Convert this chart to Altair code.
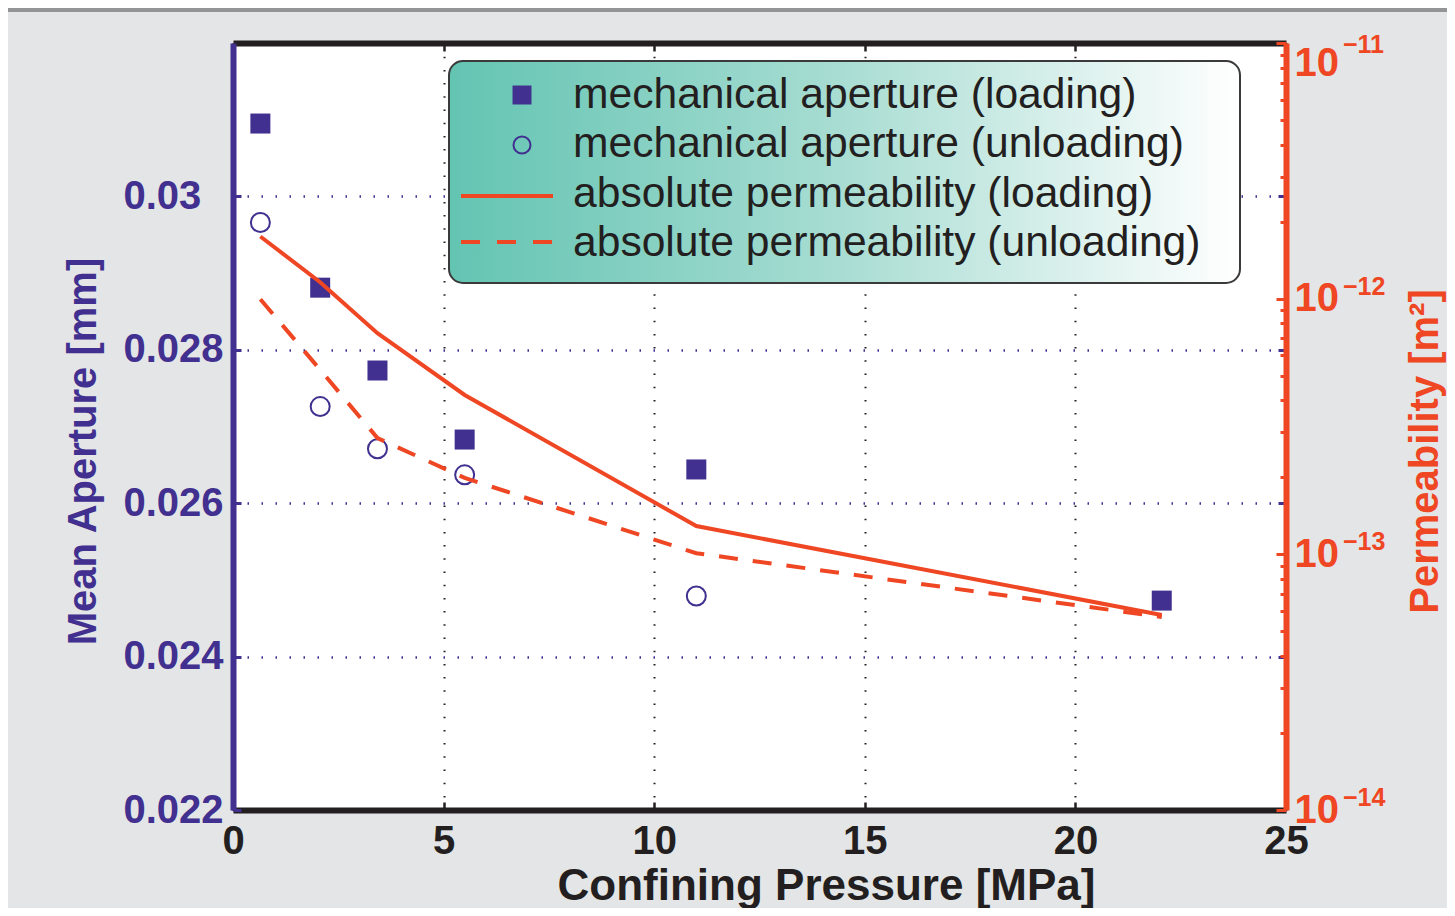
import altair as alt
import pandas as pd

# ---- data ----
pressure = [0.65, 2.07, 3.43, 5.5, 11.0, 22.05]
aperture_loading = [0.03095, 0.02881, 0.02773, 0.02683, 0.02644, 0.02473]
pressure_unloading = [0.65, 2.07, 3.43, 5.5, 11.0]
aperture_unloading = [0.02966, 0.02726, 0.02671, 0.02637, 0.02479]
perm_loading = [1.75e-12, 1.16e-12, 7.33e-13, 4.2e-13, 1.29e-13, 5.79e-14]
perm_unloading = [9.95e-13, 5.27e-13, 2.85e-13, 1.99e-13, 1.01e-13, 5.69e-14]

x_ticks = [0, 5, 10, 15, 20, 25]
aperture_ticks = [0.022, 0.024, 0.026, 0.028, 0.030]
perm_decades = [1e-14, 1e-13, 1e-12, 1e-11]
perm_exponents = ["\u221214", "\u221213", "\u221212", "\u221211"]
perm_minor = [k * 10.0 ** e for e in (-14, -13, -12) for k in range(2, 10)]

legend_labels = [
    "mechanical aperture (loading)",
    "mechanical aperture (unloading)",
    "absolute permeability (loading)",
    "absolute permeability (unloading)",
]

PURPLE = "#41308f"
ORANGE = "#ef4623"
BLACK = "#231f20"
FONT = "Liberation Sans"
W, H = 1053, 767

df_load = pd.DataFrame({"p": pressure, "a": aperture_loading, "k": perm_loading})
df_unload = pd.DataFrame({"p": pressure_unloading, "a": aperture_unloading})
df_kun = pd.DataFrame({"p": pressure, "k": perm_unloading})
df_dec = pd.DataFrame({"v": perm_decades, "t": perm_exponents})

xscale = alt.Scale(domain=[0, 25], nice=False, zero=False)
yA = alt.Scale(domain=[0.022, 0.032], nice=False, zero=False)
yB = alt.Scale(type="log", domain=[1e-14, 1e-11], nice=False)

x_bottom = alt.Axis(
    orient="bottom", values=x_ticks, format="d", labelFlush=False, labelOverlap=False,
    labelFont=FONT, labelFontSize=40, labelFontWeight="bold", labelColor=BLACK, labelPadding=19,
    tickSize=alt.ExprRef(expr="-8"), tickColor=BLACK, tickWidth=2.5,
    domainColor=BLACK, domainWidth=6,
    grid=True, gridColor=BLACK, gridDash=[1.5, 11.7], gridWidth=2,
    title="Confining Pressure [MPa]", titleFont=FONT, titleFontSize=44, titleFontWeight="bold",
    titleColor=BLACK, titleX=593, titleY=76, titleBaseline="middle", titleAlign="center",
)
x_top = alt.Axis(
    orient="top", values=x_ticks, labels=False, grid=False, title=None,
    tickSize=alt.ExprRef(expr="-8"), tickColor=BLACK, tickWidth=2.5,
    domainColor=BLACK, domainWidth=6,
)
y_left = alt.Axis(
    orient="left", values=aperture_ticks, format=".3~f", labelFlush=False, labelOverlap=False,
    labelFont=FONT, labelFontSize=40, labelFontWeight="bold", labelColor=PURPLE,
    labelAlign="left", labelPadding=118,
    tickSize=alt.ExprRef(expr="-8"), tickColor=PURPLE, tickWidth=3,
    domainColor=PURPLE, domainWidth=6,
    grid=True, gridColor=PURPLE, gridDash=[1.5, 12.5], gridWidth=2.5,
    title="Mean Aperture [mm]", titleFont=FONT, titleFontSize=40, titleFontWeight="bold",
    titleColor=PURPLE, titleX=-150, titleY=408, titleAngle=270, titleBaseline="middle",
    titleAlign="center",
)
y_right_mirror = alt.Axis(
    orient="right", values=aperture_ticks, labels=False, domain=False, grid=False, title=None,
    tickSize=alt.ExprRef(expr="-8"), tickColor=PURPLE, tickWidth=3,
)
y_perm = alt.Axis(
    orient="right", values=perm_decades, labelExpr="'10'", labelFlush=False, labelOverlap=False,
    labelFont=FONT, labelFontSize=40, labelFontWeight="bold", labelColor=ORANGE,
    labelAlign="left",
    labelBaseline={"condition": {"test": "datum.value > 5e-12", "value": "top"}, "value": "middle"},
    labelPadding=18,
    tickSize=alt.ExprRef(expr="-10"), tickColor=ORANGE, tickWidth=3,
    domainColor=ORANGE, domainWidth=6, grid=False,
    title="Permeability [m\u00b2]", titleFont=FONT, titleFontSize=40, titleFontWeight="bold",
    titleColor=ORANGE, titleX=139, titleY=408, titleAngle=270, titleBaseline="middle",
    titleAlign="center",
)
y_perm_minor = alt.Axis(
    orient="right", values=perm_minor, labels=False, domain=False, grid=False, title=None,
    tickSize=alt.ExprRef(expr="-6"), tickColor=ORANGE, tickWidth=3,
)

# ---- aperture layer ----
squares = alt.Chart(df_load).mark_square(size=400, color=PURPLE, opacity=1).encode(
    x=alt.X("p:Q", scale=xscale, axis=x_bottom),
    y=alt.Y("a:Q", scale=yA, axis=y_left),
)
circles = alt.Chart(df_unload).mark_point(
    shape="circle", size=361, color=PURPLE, filled=False, strokeWidth=2, opacity=1
).encode(
    x=alt.X("p:Q", scale=xscale, axis=x_top),
    y=alt.Y("a:Q", scale=yA, axis=y_right_mirror),
)
layer_a = alt.layer(squares, circles).resolve_axis(x="independent", y="independent")

# ---- permeability layer ----
solid = alt.Chart(df_load).mark_line(color=ORANGE, strokeWidth=4).encode(
    x=alt.X("p:Q", scale=xscale, axis=None),
    y=alt.Y("k:Q", scale=yB, axis=y_perm),
)
dashed = alt.Chart(df_kun).mark_line(color=ORANGE, strokeWidth=4, strokeDash=[19, 15]).encode(
    x=alt.X("p:Q", scale=xscale, axis=None),
    y=alt.Y("k:Q", scale=yB, axis=y_perm_minor),
)
SUP_X = 1343 - 233
sup_low = alt.Chart(df_dec).transform_filter("datum.v < 5e-12").mark_text(
    font=FONT, fontSize=25, fontWeight="bold", color=ORANGE, align="left", baseline="middle", dy=-12
).encode(
    x=alt.value(SUP_X),
    y=alt.Y("v:Q", scale=yB, axis=None),
    text="t:N",
)
sup_top = alt.Chart(df_dec).transform_filter("datum.v > 5e-12").mark_text(
    font=FONT, fontSize=25, fontWeight="bold", color=ORANGE, align="left", baseline="middle", dy=2
).encode(
    x=alt.value(SUP_X),
    y=alt.Y("v:Q", scale=yB, axis=None),
    text="t:N",
)
layer_b = alt.layer(solid, dashed, sup_low, sup_top).resolve_axis(y="independent")

# ---- legend (drawn by hand: gradient box) ----
gradient = alt.LinearGradient(
    gradient="linear",
    stops=[alt.GradientStop(color="#63c4b2", offset=0),
           alt.GradientStop(color="#a9ddd3", offset=0.5),
           alt.GradientStop(color="#ffffff", offset=1)],
    x1=0, x2=1, y1=0, y2=0,
)
leg_box = alt.Chart().mark_rect(fill=gradient, stroke="#3a3a3a", strokeWidth=2, cornerRadius=14).encode(
    x=alt.value(216), x2=alt.value(1007), y=alt.value(18), y2=alt.value(240)
)
leg_sq = alt.Chart().mark_point(shape="square", filled=True, size=360, color=PURPLE, opacity=1).encode(
    x=alt.value(289), y=alt.value(52)
)
leg_circ = alt.Chart().mark_point(shape="circle", filled=False, size=290, color=PURPLE,
                                  strokeWidth=2, opacity=1).encode(
    x=alt.value(289), y=alt.value(102)
)
leg_line = alt.Chart().mark_rule(color=ORANGE, strokeWidth=4).encode(
    x=alt.value(228), x2=alt.value(320), y=alt.value(153)
)
leg_dash = alt.Chart().mark_rule(color=ORANGE, strokeWidth=4, strokeDash=[19, 17]).encode(
    x=alt.value(228), x2=alt.value(320), y=alt.value(199)
)
leg_y = [52, 101, 151, 200]
leg_texts = [
    alt.Chart().mark_text(font=FONT, fontSize=42.6, color=BLACK, align="left", baseline="middle").encode(
        x=alt.value(340), y=alt.value(yy), text=alt.value(lbl)
    )
    for lbl, yy in zip(legend_labels, leg_y)
]

band = alt.Chart().mark_rect(color="#939496").encode(
    x=alt.value(-240), x2=alt.value(W + 200), y=alt.value(-50), y2=alt.value(-31)
)

chart = alt.layer(
    layer_a, layer_b, leg_box, leg_sq, leg_circ, leg_line, leg_dash, *leg_texts, band
).resolve_scale(y="independent").properties(
    width=W, height=H,
    background="#e4e5e6",
    padding={"left": 225, "top": 35, "right": 161, "bottom": 98},
    autosize=alt.AutoSizeParams(type="none"),
).configure_view(stroke=None, fill="white")

chart.save("out.html", embed_options={"renderer": "svg", "actions": False})
